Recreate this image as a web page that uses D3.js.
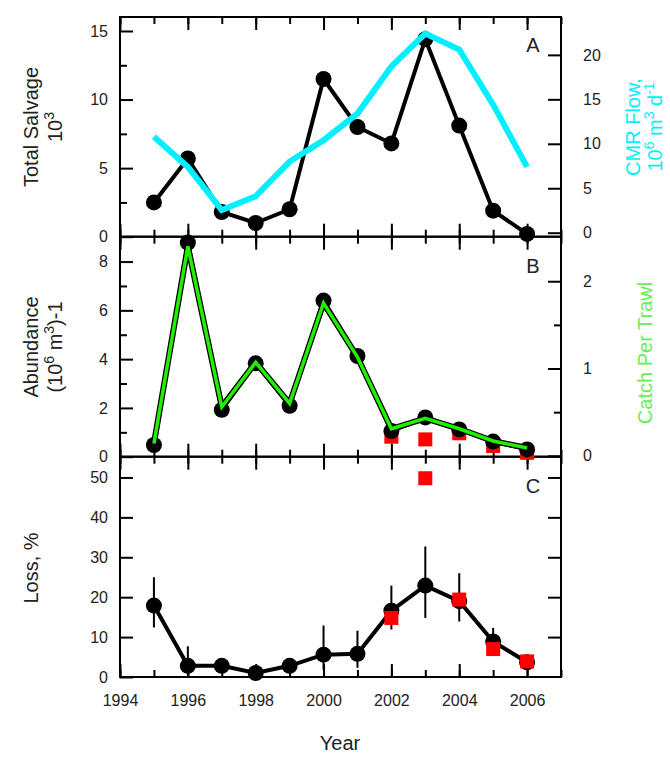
<!DOCTYPE html><html><head><meta charset="utf-8"><script src="https://cdn.jsdelivr.net/npm/d3@7"></script>
<style>body{margin:0;background:#fff}text{font-family:"Liberation Sans",Arial,sans-serif;fill:#222}</style></head><body><svg id="c" width="670" height="757"></svg>
<script>
const years=[1995,1996,1997,1998,1999,2000,2001,2002,2003,2004,2005,2006];
const salvage=[2.5,5.7,1.8,1.0,2.0,11.5,8.0,6.8,14.4,8.1,1.9,0.2];
const cmrFlow=[10.8,7.4,2.55,4.1,8.0,10.4,13.4,18.7,22.4,20.6,14.4,7.4];
const abundance=[0.48,8.78,1.92,3.83,2.09,6.4,4.13,1.05,1.61,1.12,0.62,0.3];
const catchPerTrawl=[0.14,2.4,0.56,1.07,0.6,1.75,1.13,0.31,0.43,0.31,0.17,0.09];
const redYears=[2002,2003,2004,2005,2006];
const abundRed=[0.82,0.71,0.96,0.44,0.16];
const loss=[17.9,2.8,2.8,1.0,2.8,5.6,5.8,16.6,22.9,19,8.9,3.7];
const lossHi=[25,7.7,null,null,null,12.9,11.6,22.9,32.7,26,12.3,null];
const lossLo=[12.4,0.5,null,null,null,1.8,2.3,11.9,14.8,13.9,6,null];
const lossRed=[14.8,49.8,19.4,7.0,3.9];
const xTicks=[1994,1996,1998,2000,2002,2004,2006];

const svg=d3.select("#c");
const L=120,R=561;
const x=d3.scaleLinear().domain([1994,2007]).range([L,R]);
const panels=[{top:17,bot:236.7},{top:236.7,bot:456.7},{top:456.7,bot:677}];
const yA=d3.scaleLinear().domain([0,16.02]).range([236.7,17]);
const yA2=d3.scaleLinear().domain([-0.45,24.26]).range([236.7,17]);
const yB=d3.scaleLinear().domain([0,9.02]).range([456.7,236.7]);
const yB2=d3.scaleLinear().domain([-0.01,2.51]).range([456.7,236.7]);
const yC=d3.scaleLinear().domain([0,55.2]).range([677,456.7]);

function ax(axis,tr,labels){const a=svg.append("g").attr("transform",tr).call(axis);a.select(".domain").remove();a.attr("font-size",16);a.selectAll("line").attr("stroke","#000").attr("stroke-width",2);a.selectAll("text").style("font-size","16px");if(!labels)a.selectAll("text").remove();return a;}
function ticksY(scale,maj,min,side,lab){
  ax((side=="l"?d3.axisLeft(scale):d3.axisRight(scale)).tickValues(min).tickSize(-7).tickFormat(""),`translate(${side=="l"?L:R},0)`,false);
  ax((side=="l"?d3.axisLeft(scale):d3.axisRight(scale)).tickValues(maj).tickSize(-13).tickPadding(side=="l"?12:22).tickFormat(d3.format("d")),`translate(${side=="l"?L:R},0)`,lab);
}
const d1=d3.range(1994,2008);
panels.forEach((p,i)=>{
  [p.bot,p.top].forEach((yy,j)=>{
    const f=j==0?d3.axisBottom(x):d3.axisTop(x);
    ax(f.tickValues(d1).tickSize(-7).tickFormat(""),`translate(0,${yy})`,false);
    ax(f.tickValues(xTicks).tickSize(-13).tickFormat(d3.format("d")).tickPadding(18),`translate(0,${yy})`,i==2&&j==0);
  });
  svg.append("rect").attr("x",L).attr("y",p.top).attr("width",R-L).attr("height",p.bot-p.top).attr("fill","none").attr("stroke","#000").attr("stroke-width",2);
});
ticksY(yA,[0,5,10,15],[2.5,7.5,12.5],"l",true);
ticksY(yA2,[0,5,10,15,20],[],"r",true);
ticksY(yB,[0,2,4,6,8],[1,3,5,7],"l",true);
ticksY(yB2,[0,1,2],[0.5,1.5],"r",true);
ticksY(yC,[0,10,20,30,40,50],[],"l",true);
ticksY(yC,[10,20,30,40,50],[],"r",false);

const line=(ys,arr)=>d3.line().x((d,i)=>x(years[i])).y(d=>ys(d))(arr);
// A
svg.append("path").attr("d",line(yA,salvage)).attr("fill","none").attr("stroke","#000").attr("stroke-width",4);
svg.selectAll(".pa").data(salvage).join("circle").attr("cx",(d,i)=>x(years[i])).attr("cy",d=>yA(d)).attr("r",8).attr("fill","#000");
svg.append("path").attr("d",line(yA2,cmrFlow)).attr("fill","none").attr("stroke","#00f0ff").attr("stroke-width",6);
// B
svg.selectAll(".rb").data(abundRed).join("rect").attr("x",(d,i)=>x(redYears[i])-7).attr("y",d=>yB(d)-7).attr("width",14).attr("height",14).attr("fill","#ff0000");
svg.append("path").attr("d",line(yB,abundance)).attr("fill","none").attr("stroke","#000").attr("stroke-width",4);
svg.selectAll(".pb").data(abundance).join("circle").attr("cx",(d,i)=>x(years[i])).attr("cy",d=>yB(d)).attr("r",8).attr("fill","#000");
svg.append("path").attr("d",line(yB2,catchPerTrawl)).attr("fill","none").attr("stroke","#000").attr("stroke-width",6);
svg.append("path").attr("d",line(yB2,catchPerTrawl)).attr("fill","none").attr("stroke","#22ee00").attr("stroke-width",3.5);
// C
years.forEach((yr,i)=>{if(lossHi[i]!=null)svg.append("line").attr("x1",x(yr)).attr("x2",x(yr)).attr("y1",yC(lossHi[i])).attr("y2",yC(lossLo[i])).attr("stroke","#000").attr("stroke-width",2);});
svg.append("path").attr("d",line(yC,loss)).attr("fill","none").attr("stroke","#000").attr("stroke-width",4);
svg.selectAll(".pc").data(loss).join("circle").attr("cx",(d,i)=>x(years[i])).attr("cy",d=>yC(d)).attr("r",8).attr("fill","#000");
svg.selectAll(".rc").data(lossRed).join("rect").attr("x",(d,i)=>x(redYears[i])-7).attr("y",d=>yC(d)-7).attr("width",14).attr("height",14).attr("fill","#ff0000");

// labels
[["A",45],["B",266],["C",486]].forEach(([t,yy])=>svg.append("text").attr("x",533).attr("y",yy+7).attr("text-anchor","middle").style("font-size","20px").text(t));
function vt(xx,yy,t,col){const e=svg.append("text").attr("transform",`translate(${xx},${yy}) rotate(-90)`).attr("text-anchor","middle").style("font-size","20px");if(col)e.style("fill",col);e.html(t);return e;}
vt(38,127,"Total Salvage");
vt(62,127,"10<tspan dy='-8' font-size='14'>3</tspan>");
vt(38,347,"Abundance");
vt(62,347,"(10<tspan dy='-8' font-size='14'>6</tspan><tspan dy='8'> m</tspan><tspan dy='-8' font-size='14'>3</tspan><tspan dy='8'>)-1</tspan>");
vt(38,568,"Loss, %");
vt(640,127,"CMR Flow,","#00f0ff");
vt(662,127,"10<tspan dy='-8' font-size='14'>6</tspan><tspan dy='8'> m</tspan><tspan dy='-8' font-size='14'>3</tspan><tspan dy='8'> d</tspan><tspan dy='-8' font-size='14'>-1</tspan>","#00f0ff");
vt(652,353,"Catch Per Trawl","#66ee55");
svg.append("text").attr("x",340).attr("y",750).attr("text-anchor","middle").style("font-size","20px").text("Year");
</script></body></html>
